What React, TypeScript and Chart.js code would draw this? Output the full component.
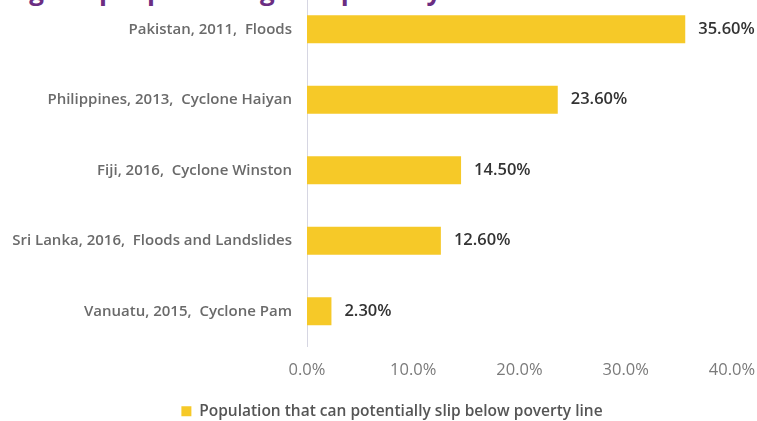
import React, { useEffect, useRef } from "react";
import { Chart, registerables } from "chart.js";

Chart.register(...registerables);

const titleText = "Percentage of people falling into poverty";
const categories = [
  "Pakistan, 2011,  Floods",
  "Philippines, 2013,  Cyclone Haiyan",
  "Fiji, 2016,  Cyclone Winston",
  "Sri Lanka, 2016,  Floods and Landslides",
  "Vanuatu, 2015,  Cyclone Pam",
];
const values = [35.6, 23.6, 14.5, 12.6, 2.3];
const seriesName = "Population that can potentially slip below poverty line";
const xMin = 0;
const xMax = 40;
const xStep = 10;

const FONT = "'Open Sans', 'Noto Sans', sans-serif";

const valueLabels = {
  id: "valueLabels",
  afterDatasetsDraw(chart: any) {
    const ctx = chart.ctx;
    const meta = chart.getDatasetMeta(0);
    ctx.save();
    ctx.font = `600 16.5px ${FONT}`;
    ctx.fillStyle = "#333333";
    ctx.textAlign = "left";
    ctx.textBaseline = "middle";
    meta.data.forEach((bar: any, i: number) => {
      const v = chart.data.datasets[0].data[i] as number;
      ctx.fillText(v.toFixed(2) + "%", bar.x + 13, bar.y);
    });
    ctx.restore();
  },
};

export default function App() {
  const ref = useRef<HTMLCanvasElement | null>(null);
  useEffect(() => {
    if (!ref.current) return;
    const chart = new Chart(ref.current, {
      type: "bar",
      data: {
        labels: categories,
        datasets: [
          {
            label: seriesName,
            data: values,
            backgroundColor: "#F6C928",
            borderWidth: 0,
            barPercentage: 0.8,
            categoryPercentage: 0.5,
          },
        ],
      },
      options: {
        indexAxis: "y",
        responsive: false,
        animation: false,
        devicePixelRatio: 1,
        layout: { padding: { left: 0, right: 0, top: 14, bottom: 0 } },
        plugins: {
          tooltip: { enabled: false },
          title: { display: false },
          legend: {
            display: true,
            position: "bottom",
            labels: {
              boxWidth: 10,
              boxHeight: 10,
              padding: 6,
              color: "#555555",
              font: { family: FONT, size: 15.5, weight: "600" },
            },
          },
        },
        scales: {
          x: {
            min: xMin,
            max: xMax,
            ticks: {
              stepSize: xStep,
              color: "#7a7a7a",
              padding: 14,
              font: { family: FONT, size: 16.5 },
              callback: (v: any) => Number(v).toFixed(1) + "%",
            },
            grid: { display: false, drawTicks: false },
            border: { display: false },
            afterFit: (s: any) => {
              s.height = 51;
              s.paddingLeft = 0;
              s.paddingRight = 52;
            },
          },
          y: {
            ticks: {
              color: "#6a6a6a",
              padding: 15,
              font: { family: FONT, size: 15, weight: "600" },
            },
            grid: { display: false, drawTicks: false },
            border: { display: true, color: "#d6d6e2", width: 1 },
            afterFit: (s: any) => {
              s.width = 307;
              s.paddingTop = 0;
              s.paddingBottom = 0;
            },
          },
        },
      },
      plugins: [valueLabels],
    });
    return () => chart.destroy();
  }, []);

  return (
    <div
      style={{
        position: "absolute",
        left: 0,
        top: 0,
        width: 757,
        height: 421,
        overflow: "hidden",
        background: "#ffffff",
      }}
    >
      <div
        style={{
          position: "absolute",
          left: -87,
          top: -25,
          whiteSpace: "nowrap",
          fontFamily: FONT,
          fontWeight: 700,
          fontSize: 26,
          lineHeight: "30px",
          color: "#6B2D82",
        }}
      >
        {titleText}
      </div>
      <canvas
        ref={ref}
        width={784}
        height={449}
        style={{ position: "absolute", left: 0, top: -20, width: 784, height: 449 }}
      />
    </div>
  );
}
